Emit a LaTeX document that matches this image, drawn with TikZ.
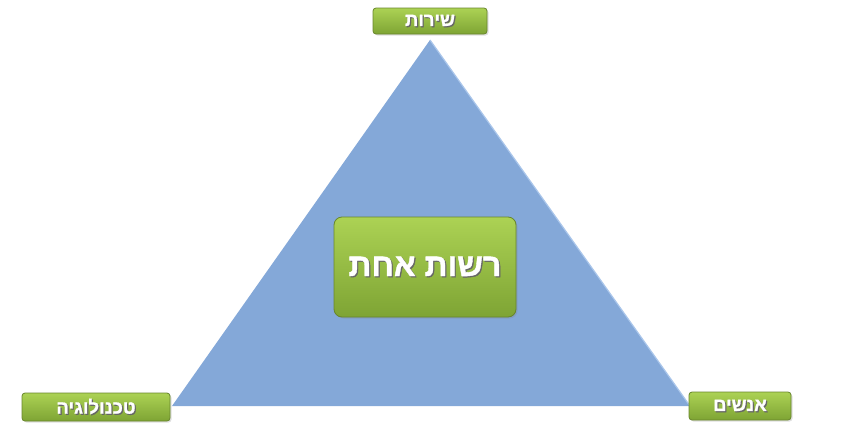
\documentclass[tikz,border=0pt]{standalone}
\usepackage{fontspec}
\newfontfamily\hebbold{Liberation Sans}[Script=Hebrew, UprightFont={* Bold}, FakeBold=1.2]
\TeXXeTstate=1
\usetikzlibrary{shadows}
\definecolor{triblue}{RGB}{132,168,216}
\definecolor{triedge}{RGB}{170,198,235}
\definecolor{grntop}{RGB}{172,210,84}
\definecolor{grnbot}{RGB}{126,164,52}
\definecolor{grnline}{RGB}{104,134,44}
% hebrew text with a small dark shadow
\newcommand\heb[1]{\rlap{\kern1.2pt\raisebox{-1.2pt}{\color{black!60}\beginR#1\endR}}\beginR#1\endR}

\begin{document}
\begin{tikzpicture}[x=1pt, y=-1pt,
  box/.style={draw=grnline, line width=0.8pt, rounded corners=3pt,
    top color=grntop, bottom color=grnbot, text=white, font=\hebbold\fontsize{18.5}{20}\selectfont,
    inner sep=0pt, drop shadow={opacity=0.25, shadow xshift=1.5pt, shadow yshift=-1.5pt}},
  bigbox/.style={box, rounded corners=8pt, font=\hebbold\fontsize{32}{36}\selectfont}]
\useasboundingbox (0,0) rectangle (841,437);
% triangle
\coordinate (T) at (430,40);
\coordinate (L) at (172,406);
\coordinate (R) at (690,406);
\fill[triblue] (T) -- (R) -- (L) -- cycle;
\draw[triedge, line width=1.2pt] (T) -- (R);
% labels
\node[box, minimum width=114pt, minimum height=26pt] (S) at (430,21) {\heb{שירות}};
\node[box, minimum width=148pt, minimum height=28pt] (Tech) at (96,407) {\heb{טכנולוגיה}};
\node[box, minimum width=102pt, minimum height=28pt] (P) at (740,406) {\heb{אנשים}};
\node[bigbox, minimum width=182pt, minimum height=100pt] (A) at (425,267) {\heb{רשות אחת}};
\end{tikzpicture}
\end{document}
